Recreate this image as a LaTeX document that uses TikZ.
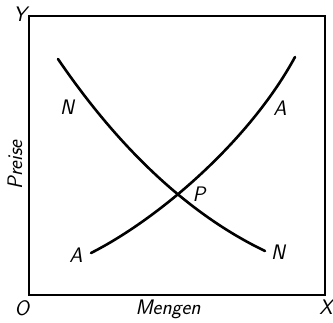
\documentclass[tikz,border=0pt]{standalone}
\usepackage{tikz}
\usetikzlibrary{positioning}
\tikzset{
  axisline/.style={line width=1.3pt},
  kurve/.style={line width=2.6pt, line cap=round},
  lbl/.style={font=\fontsize{21}{23}\selectfont\sffamily\slshape, inner sep=0pt},
}
\begin{document}
\begin{tikzpicture}[x=1pt, y=-1pt]
\useasboundingbox (0,0) rectangle (333,323);
% Achsenkasten
\coordinate (ecko) at (29,295);
\coordinate (ecky) at (29,16);
\coordinate (eckx) at (325,295);
\draw[axisline] (ecky) rectangle (eckx);
\node[lbl] (y) at (20,14) {Y};
\node[lbl] (o) at (22,308) {O};
\node[lbl] (x) at (326,307) {X};
\node[lbl] (mengen) at (168,309) {Mengen};
\node[lbl, rotate=90] (preise) at (15,165) {Preise};
% Nachfrage und Angebot
\coordinate (n1) at (58,59);
\coordinate (n2) at (265,251);
\coordinate (a1) at (91,253);
\coordinate (a2) at (295,57);
\draw[kurve] (n1) .. controls (120,150) and (190,215) .. (n2);
\draw[kurve] (a1) .. controls (160,218) and (250,140) .. (a2);
\node[lbl] (nlo) at (67,107) {N};
\node[lbl] (nru) at (278,252) {N};
\node[lbl] (alu) at (76,255) {A};
\node[lbl] (aro) at (280,108) {A};
\node[lbl] (p) at (199,194) {P};
\end{tikzpicture}
\end{document}
